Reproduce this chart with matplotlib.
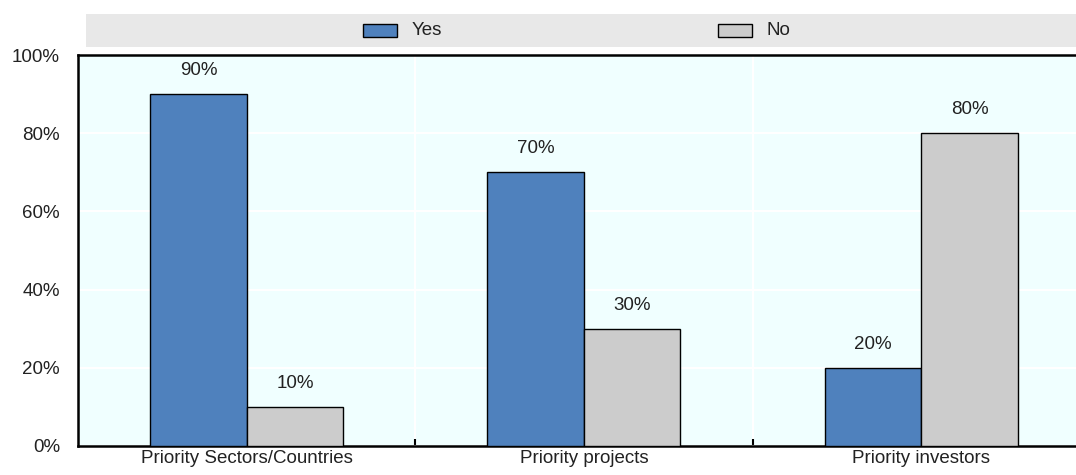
import matplotlib
matplotlib.use("Agg")
import matplotlib.pyplot as plt
from matplotlib.patches import Rectangle
from matplotlib import font_manager
import numpy as np

categories = ["Priority Sectors/Countries", "Priority projects", "Priority investors"]
yes_values = [90, 70, 20]
no_values = [10, 30, 80]
series_names = ["Yes", "No"]
yticks = [0, 20, 40, 60, 80, 100]

names = {f.name for f in font_manager.fontManager.ttflist}
fam = "Liberation Sans Narrow" if "Liberation Sans Narrow" in names else "Liberation Sans"
plt.rcParams["font.family"] = [fam, "DejaVu Sans"]

W, H = 1076, 475
fig = plt.figure(figsize=(W / 100, H / 100), dpi=100)
ax = fig.add_axes([78 / W, 1 - 446 / H, (W - 78) / W, (446 - 55) / H])
ax.set_facecolor("#F0FFFF")

x = np.arange(len(categories))
bw = 0.286
blue = "#4F81BD"
grey = "#CCCCCC"
txt = "#222222"
b1 = ax.bar(x - bw / 2, yes_values, bw, color=blue, edgecolor="black", linewidth=1, zorder=3)
b2 = ax.bar(x + bw / 2, no_values, bw, color=grey, edgecolor="black", linewidth=1, zorder=3)
for bars, vals in ((b1, yes_values), (b2, no_values)):
    for r, v in zip(bars, vals):
        ax.text(r.get_x() + r.get_width() / 2, v + 3.8, f"{v}%", ha="center", va="bottom",
                fontsize=13.5, color=txt)

ax.set_xlim(-0.5, -0.5 + (W - 78) / 337.3)
ax.set_ylim(0, 100)
ax.set_yticks(yticks)
ax.set_yticklabels([f"{t}%" for t in yticks], fontsize=13.5, color=txt)
ax.tick_params(axis="y", length=0, pad=13)
ax.set_xticks(x)
ax.set_xticklabels(categories, fontsize=13.5, color=txt)
ax.tick_params(axis="x", length=0, pad=3)
bounds = [0.5, 1.5]
ax.set_xticks(bounds, minor=True)
ax.tick_params(axis="x", which="minor", direction="in", length=5, width=1.5, color="black")
ax.grid(True, axis="y", color="white", linewidth=1.5, zorder=0)
for b in bounds:
    ax.axvline(b, color="white", linewidth=1.5, zorder=0)
ax.set_axisbelow(True)
for s in ["top", "left", "bottom"]:
    ax.spines[s].set_linewidth(1.8)
    ax.spines[s].set_color("black")
ax.spines["right"].set_visible(False)

# legend band
fig.patches.append(Rectangle((86 / W, 1 - 47 / H), (W - 86) / W, 33 / H, transform=fig.transFigure,
                             facecolor="#E8E8E8", edgecolor="none", zorder=0))
for name, col, px in ((series_names[0], blue, 363), (series_names[1], grey, 718)):
    fig.patches.append(Rectangle((px / W, 1 - 37 / H), 34 / W, 13 / H, transform=fig.transFigure,
                                 facecolor=col, edgecolor="black", linewidth=1, zorder=2))
    fig.text((px + 49) / W, 1 - 30.5 / H, name, ha="left", va="center", fontsize=13.5, color=txt)

fig.savefig("out.png", dpi=100)
